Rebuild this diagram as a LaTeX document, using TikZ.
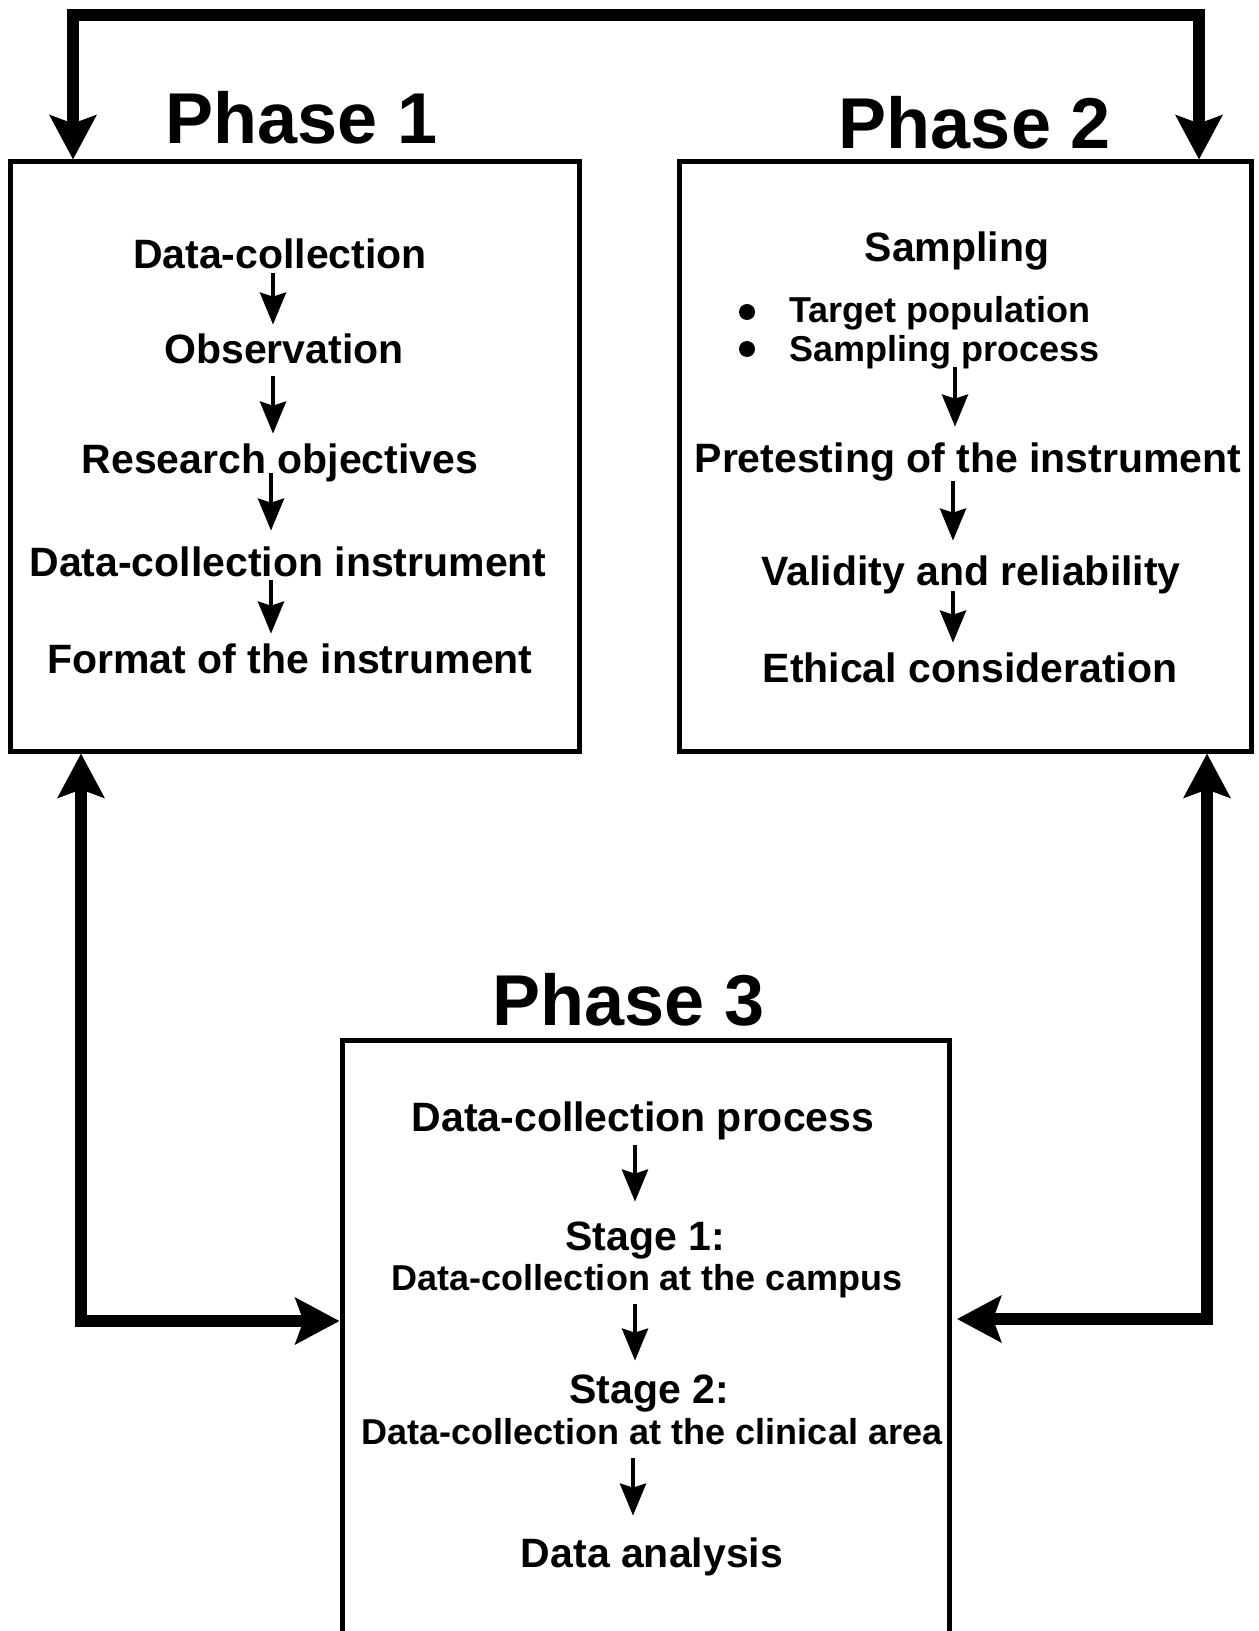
\documentclass[tikz,border=0pt]{standalone}
\usepackage{fontspec}
\setmainfont{Liberation Sans}
\usetikzlibrary{arrows.meta}
\begin{document}
\begin{tikzpicture}[x=0.5pt,y=-0.5pt,
  box/.style={draw,line width=2.5pt,inner sep=0pt},
  title/.style={anchor=base,font=\fontsize{36}{40}\selectfont\bfseries,inner sep=0pt},
  item/.style={anchor=base,font=\fontsize{20.5}{24}\selectfont\bfseries,inner sep=0pt,text height=19.5pt,text depth=2pt},
  subitem/.style={anchor=base,font=\fontsize{18}{21}\selectfont\bfseries,inner sep=0pt,text height=17pt,text depth=2pt},
  bulletdot/.style={circle,fill=black,inner sep=0pt,minimum size=8pt},
  flow/.style={line width=2pt,-{Stealth[length=16pt,width=13pt,inset=2pt]}},
  link/.style={line width=6pt,line join=miter,{Stealth[length=22pt,width=23pt,inset=4pt]}-{Stealth[length=22pt,width=23pt,inset=4pt]}},
]
\useasboundingbox (0,0) rectangle (1258,1631);
\fill[white] (0,0) rectangle (1258,1631);

% boxes
\node[box,minimum width=284.5pt,minimum height=294.5pt] (b1) at (294.5,456.5) {};
\node[box,minimum width=286pt,minimum height=294.5pt] (b2) at (965,456.5) {};
\node[box,minimum width=303.5pt,minimum height=297pt] (b3) at (645.5,1337) {};

% titles
\node[title] (t1) at (302,144) {Phase 1};
\node[title] (t2) at (975,149) {Phase 2};
\node[title] (t3) at (629,1025) {Phase 3};

% Phase 1 contents
\node[item] (p1a) at (280,269) {Data-collection};
\node[item] (p1b) at (284,364) {Observation};
\node[item] (p1c) at (280,473) {Research objectives};
\node[item] (p1d) at (288,576) {Data-collection instrument};
\node[item] (p1e) at (290,673) {Format of the instrument};
\draw[flow] (p1a.south -| 273,0) -- (p1b.north -| 273,0);
\draw[flow,shorten <=4pt] (p1b.south -| 273,0) -- (p1c.north -| 273,0);
\draw[flow,shorten <=-2pt,shorten >=3pt] (p1c.south -| 271,0) -- (p1d.north -| 271,0);
\draw[flow] (p1d.south -| 271,0) -- (p1e.north -| 271,0);

% Phase 2 contents
\node[item] (p2a) at (957,262) {Sampling};
\node[subitem,anchor=base west] (p2b) at (789,322) {Target population};
\node[subitem,anchor=base west] (p2c) at (789,361) {Sampling process};
\node[bulletdot] (d1) at (747,312) {};
\node[bulletdot] (d2) at (747,349) {};
\node[item] (p2d) at (968,472) {Pretesting of the instrument};
\node[item] (p2e) at (971,585) {Validity and reliability};
\node[item] (p2f) at (970,682) {Ethical consideration};
\draw[flow,shorten <=1pt,shorten >=3pt] (p2c.south -| 955,0) -- (p2d.north -| 955,0);
\draw[flow,shorten <=2.5pt,shorten >=2.5pt] (p2d.south -| 953,0) -- (p2e.north -| 953,0);
\draw[flow,shorten <=1pt] (p2e.south -| 953,0) -- (p2f.north -| 953,0);

% Phase 3 contents
\node[item] (p3a) at (643,1131) {Data-collection process};
\node[item] (p3b) at (645,1250) {Stage 1:};
\node[subitem] (p3c) at (647,1290) {Data-collection at the campus};
\node[item] (p3d) at (649,1403) {Stage 2:};
\node[subitem] (p3e) at (652,1444) {Data-collection at the clinical area};
\node[item] (p3f) at (652,1567) {Data analysis};
\draw[flow,shorten <=5pt,shorten >=4.5pt] (p3a.south -| 635,0) -- (p3b.north -| 635,0);
\draw[flow,shorten <=5pt,shorten >=1.5pt] (p3c.south -| 635,0) -- (p3d.north -| 635,0);
\draw[flow,shorten <=5pt,shorten >=6pt] (p3e.south -| 633,0) -- (p3f.north -| 633,0);

% connectors
\coordinate (tl) at (73,15);
\coordinate (tr) at (1199,15);
\draw[link] (b1.north -| tl) -- (tl) -- (tr) -- (b2.north -| tr);
\coordinate (bl) at (81,1321);
\draw[link] (b1.south -| bl) -- (bl) -- (b3.west |- bl);
\coordinate (br) at (1207,1319);
\coordinate (br3) at (957,1319);
\draw[link] (b2.south -| br) -- (br) -- (br3);
\end{tikzpicture}
\end{document}
